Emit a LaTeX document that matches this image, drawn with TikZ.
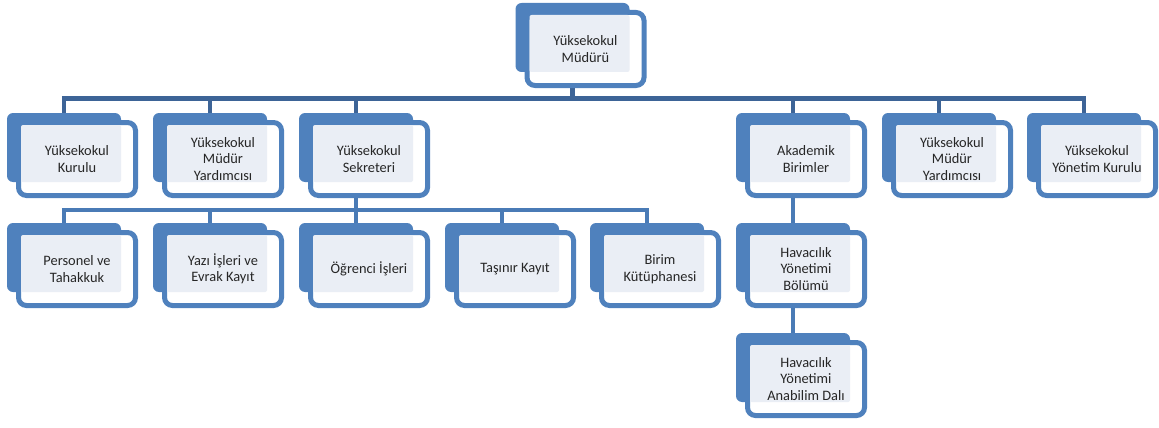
\documentclass[tikz,border=0pt]{standalone}
\usepackage{fontspec}
\setmainfont{Carlito}
\usetikzlibrary{backgrounds}

\definecolor{boxblue}{HTML}{4F81BD}
\definecolor{boxlight}{HTML}{EAEEF5}
\definecolor{linedark}{HTML}{3D6497}
\definecolor{linemid}{HTML}{4A7BB6}

% one org chart box: back tab, framed front, light text panel
\newcommand{\orgbox}[4]{%
	\node[backbox] (#1) at (#2,#3) {};
	\node[frontbox] (#1-f) at ([shift={(13,11.5)}]#1.center) {};
	\node[lightbox] (#1-l) at ([shift={(7,6)}]#1.center) {};
	\node[boxtext] (#1-t) at (#1-f) {#4};
}

\begin{document}
\begin{tikzpicture}[x=1pt,y=-1pt,
		backbox/.style={fill=boxblue,rounded corners=6pt,minimum width=114pt,minimum height=69pt,inner sep=0pt},
		frontbox/.style={draw=boxblue,line width=5pt,fill=white,rounded corners=8pt,minimum width=117pt,minimum height=73pt,inner sep=0pt},
		lightbox/.style={fill=boxlight,rounded corners=2pt,minimum width=100pt,minimum height=57pt,inner sep=0pt},
		boxtext/.style={align=center,text=black!85,font=\fontsize{14.4}{16.5}\selectfont,inner sep=0pt},
		barline/.style={draw=linedark,line width=5pt},
		dropline/.style={draw=linemid,line width=4.5pt}]
	\useasboundingbox (0,0) rectangle (1159,428);

	\orgbox{mudur}{572.5}{37.5}{Yüksekokul\\Müdürü}

	\orgbox{kurul}{64}{147.5}{Yüksekokul\\Kurulu}
	\orgbox{yard1}{210}{147.5}{Yüksekokul\\Müdür\\Yardımcısı}
	\orgbox{sekr}{356}{147.5}{Yüksekokul\\Sekreteri}
	\orgbox{akad}{793}{147.5}{Akademik\\Birimler}
	\orgbox{yard2}{939}{147.5}{Yüksekokul\\Müdür\\Yardımcısı}
	\orgbox{yonk}{1084}{147.5}{Yüksekokul\\Yönetim Kurulu}

	\orgbox{pers}{64}{257.5}{Personel ve\\Tahakkuk}
	\orgbox{yazi}{210}{257.5}{Yazı İşleri ve\\Evrak Kayıt}
	\orgbox{ogr}{356}{257.5}{Öğrenci İşleri}
	\orgbox{tas}{502}{257.5}{Taşınır Kayıt}
	\orgbox{kut}{647}{257.5}{Birim\\Kütüphanesi}
	\orgbox{bol}{793}{257.5}{Havacılık\\Yönetimi\\Bölümü}

	\orgbox{abd}{793}{367.5}{Havacılık\\Yönetimi\\Anabilim Dalı}

	\coordinate (bar1) at (0,98);
	\coordinate (bar2) at (0,210);

	\begin{pgfonlayer}{background}
		% first level
		\draw[barline] (mudur) -- (mudur |- bar1);
		\draw[barline] ([xshift=-2.25pt]kurul |- bar1) -- ([xshift=2.25pt]yonk |- bar1);
		\foreach \n in {kurul,yard1,sekr,akad,yard2,yonk}
			\draw[barline,line width=4.5pt] (\n |- bar1) -- (\n.north);
		% second level
		\draw[dropline] (sekr) -- (sekr |- bar2);
		\draw[dropline] ([xshift=-2.25pt]pers |- bar2) -- ([xshift=2.25pt]kut |- bar2);
		\foreach \n in {pers,yazi,ogr,tas,kut}
			\draw[dropline] (\n |- bar2) -- (\n.north);
		% academic chain
		\draw[dropline] (akad) -- (bol);
		\draw[dropline] (bol) -- (abd);
	\end{pgfonlayer}
\end{tikzpicture}
\end{document}
